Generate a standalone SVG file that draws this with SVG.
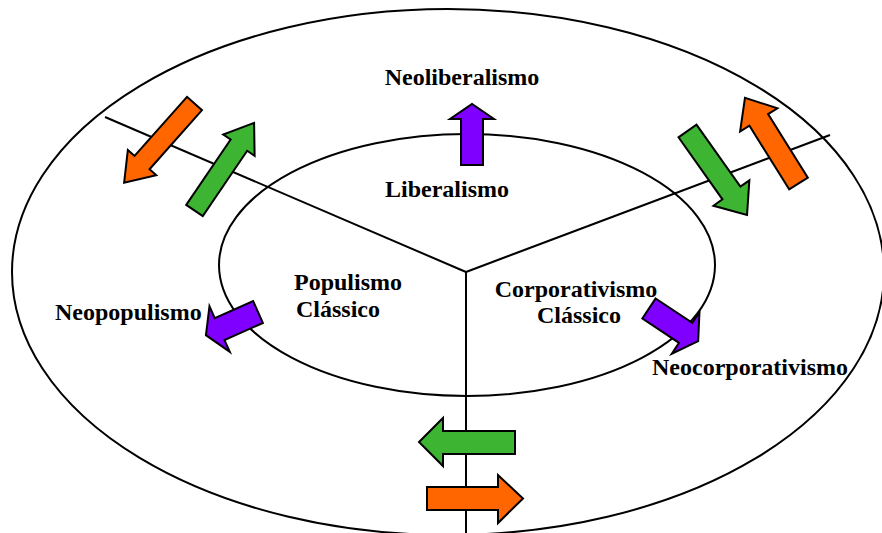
<svg xmlns="http://www.w3.org/2000/svg" width="882" height="533" viewBox="0 0 882 533">
<style>
.ring{fill:none;stroke:#000;stroke-width:2}
.conn{stroke:#000;stroke-width:2;fill:none}
.arr{stroke:#000;stroke-width:2;stroke-linejoin:miter}
.or{fill:#FF6600}
.gr{fill:#3DB533}
.pu{fill:#7F00FF}
text{font-family:"Liberation Serif","Times New Roman",serif;font-weight:bold;font-size:24px;fill:#000}
</style>
<rect width="882" height="533" fill="#fff"/>
<g id="outer-ring"><ellipse class="ring" cx="448" cy="272" rx="436" ry="263"/></g>
<g id="inner-ring"><ellipse class="ring" cx="467" cy="265" rx="248" ry="131"/></g>
<g id="connectors">
<line class="conn" x1="466" y1="272" x2="105" y2="117"/>
<line class="conn" x1="466" y1="272" x2="830" y2="135"/>
<line class="conn" x1="466" y1="272" x2="466" y2="533"/>
</g>
<g id="arrows">
<polygon class="arr or" transform="translate(194.5,103.5) rotate(131.6)" points="0,-10 79,-10 79,-19 106,0 79,19 79,10 0,10"/>
<polygon class="arr gr" transform="translate(194.5,210.5) rotate(-55.8)" points="0,-10 79,-10 79,-19 106,0 79,19 79,10 0,10"/>
<polygon class="arr gr" transform="translate(687.5,131) rotate(54.7)" points="0,-11 76,-11 76,-22 103,0 76,22 76,11 0,11"/>
<polygon class="arr or" transform="translate(798.5,183.5) rotate(-122)" points="0,-11 75,-11 75,-22 101,0 75,22 75,11 0,11"/>
<polygon class="arr gr" points="515,431 443,431 443,418 419,442 443,466 443,454 515,454"/>
<polygon class="arr or" points="427,487 498,487 498,475 523,498.5 498,523 498,510 427,510"/>
<polygon class="arr pu" points="461,165 461,119 450,119 472,104 494,119 483,119 483,165"/>
<polygon class="arr pu" transform="translate(258,312) rotate(156)" points="0,-12 42,-12 42,-25 57,0 42,25 42,12 0,12"/>
<polygon class="arr pu" transform="translate(649,308.5) rotate(33.6)" points="0,-12 44,-12 44,-25 59,0 44,25 44,12 0,12"/>
</g>
<g id="neoliberalismo"><text x="462" y="85" text-anchor="middle">Neoliberalismo</text></g>
<g id="liberalismo"><text x="447" y="197" text-anchor="middle">Liberalismo</text></g>
<g id="populismo"><text x="294" y="290">Populismo</text><text x="296" y="317">Clássico</text></g>
<g id="neopopulismo"><text x="55" y="320">Neopopulismo</text></g>
<g id="corporativismo"><text x="576" y="297" text-anchor="middle">Corporativismo</text><text x="579" y="323" text-anchor="middle">Clássico</text></g>
<g id="neocorporativismo"><text x="750" y="375" text-anchor="middle">Neocorporativismo</text></g>
</svg>
